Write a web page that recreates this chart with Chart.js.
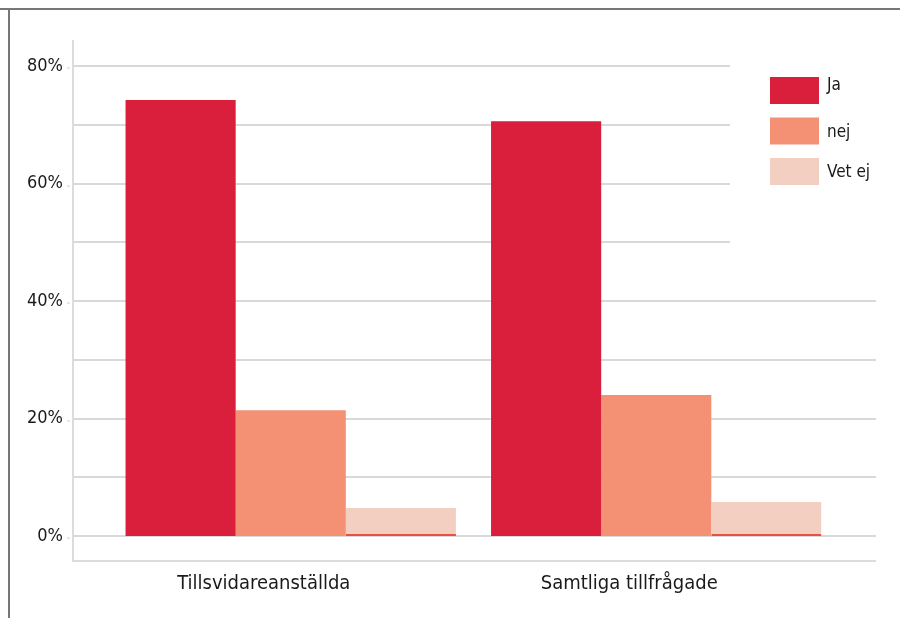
<!DOCTYPE html>
<html>
<head>
<meta charset="utf-8">
<script src="https://cdn.jsdelivr.net/npm/chart.js@4/dist/chart.umd.min.js"></script>
<style>
  html, body { margin: 0; padding: 0; background: #fff; }
  #wrap { width: 900px; height: 618px; }
</style>
</head>
<body>
<div id="wrap"><canvas id="surveyChart" width="900" height="618"></canvas></div>
<script>
// data (percent)
const categories = ["Tillsvidareanställda", "Samtliga tillfrågade"];
const seriesNames = ["Ja", "nej", "Vet ej"];
const jaValues = [74.2, 70.6];
const nejValues = [21.4, 24.0];
const vetEjValues = [4.8, 5.8];
const yTicks = [0, 10, 20, 30, 40, 50, 60, 70, 80];
const yLabelled = [0, 20, 40, 60, 80];

const colors = ["#da1f3d", "#f49074", "#f3cfc2"];
const fontName = "'DejaVu Sans Condensed', 'DejaVu Sans'";

// frame, grid and floor behind the bars
const backdrop = {
  id: "backdrop",
  beforeDatasetsDraw(chart) {
    const ctx = chart.ctx;
    const y = chart.scales.y;
    ctx.save();
    // outer frame (top + left)
    ctx.strokeStyle = "#777";
    ctx.lineWidth = 2;
    ctx.beginPath();
    ctx.moveTo(0, 9); ctx.lineTo(900, 9);
    ctx.moveTo(9, 8); ctx.lineTo(9, 618);
    ctx.stroke();

    // gridlines
    ctx.strokeStyle = "#d9d9d9";
    ctx.lineWidth = 2;
    yTicks.forEach(v => {
      const py = Math.round(y.getPixelForValue(v));
      const right = v >= 50 ? 730 : 876;
      ctx.beginPath();
      ctx.moveTo(72, py); ctx.lineTo(right, py);
      ctx.stroke();
    });
    // small tick marks at labelled values
    ctx.strokeStyle = "#cfcfcf";
    ctx.lineWidth = 1;
    yLabelled.forEach(v => {
      const py = Math.round(y.getPixelForValue(v)) + 2;
      ctx.beginPath();
      ctx.moveTo(67, py); ctx.lineTo(70, py);
      ctx.stroke();
    });

    // axis wall and floor
    ctx.strokeStyle = "#dcdcdc";
    ctx.lineWidth = 2;
    ctx.beginPath();
    ctx.moveTo(73, 40); ctx.lineTo(73, 561);
    ctx.lineTo(876, 561);
    ctx.stroke();
    ctx.restore();
  },
  afterDraw(chart) {
    // legend
    const ctx = chart.ctx;
    ctx.save();
    ctx.font = "17px " + fontName;
    ctx.textBaseline = "middle";
    chart.data.datasets.forEach((ds, i) => {
      const top = 77 + i * 40.5;
      ctx.fillStyle = ds.backgroundColor;
      ctx.fillRect(770, top, 49, 27);
      ctx.fillStyle = "#1a1a1a";
      ctx.fillText(ds.label, 827, top + 9 + (i === 0 ? 0 : 6));
    });
    ctx.restore();
  }
};

new Chart(document.getElementById("surveyChart"), {
  type: "bar",
  data: {
    labels: categories,
    datasets: [
      { label: seriesNames[0], data: jaValues, backgroundColor: colors[0] },
      { label: seriesNames[1], data: nejValues, backgroundColor: colors[1] },
      { label: seriesNames[2], data: vetEjValues, backgroundColor: colors[2],
        borderSkipped: false, borderColor: "#e8503f",
        borderWidth: { top: 0, left: 0, right: 0, bottom: 2 } }
    ]
  },
  plugins: [backdrop],
  options: {
    responsive: false,
    animation: false,
    devicePixelRatio: 1,
    layout: { padding: { top: 66, right: 61, left: 0, bottom: 0 } },
    datasets: { bar: { categoryPercentage: 0.904, barPercentage: 1.0 } },
    plugins: { legend: { display: false }, tooltip: { enabled: false } },
    scales: {
      x: {
        grid: { display: false, drawTicks: false },
        border: { display: false },
        ticks: {
          padding: 36,
          labelOffset: -27,
          color: "#1a1a1a",
          font: { family: fontName, size: 20 }
        },
        afterFit(s) { s.height = 82; }
      },
      y: {
        min: 0,
        max: 80,
        grid: { display: false, drawTicks: false },
        border: { display: false },
        afterBuildTicks(s) { s.ticks = yLabelled.map(v => ({ value: v })); },
        ticks: {
          padding: 45,
          color: "#1a1a1a",
          font: { family: fontName, size: 18 },
          callback: v => v + "%"
        },
        afterFit(s) { s.width = 108; }
      }
    }
  }
});
</script>
</body>
</html>
